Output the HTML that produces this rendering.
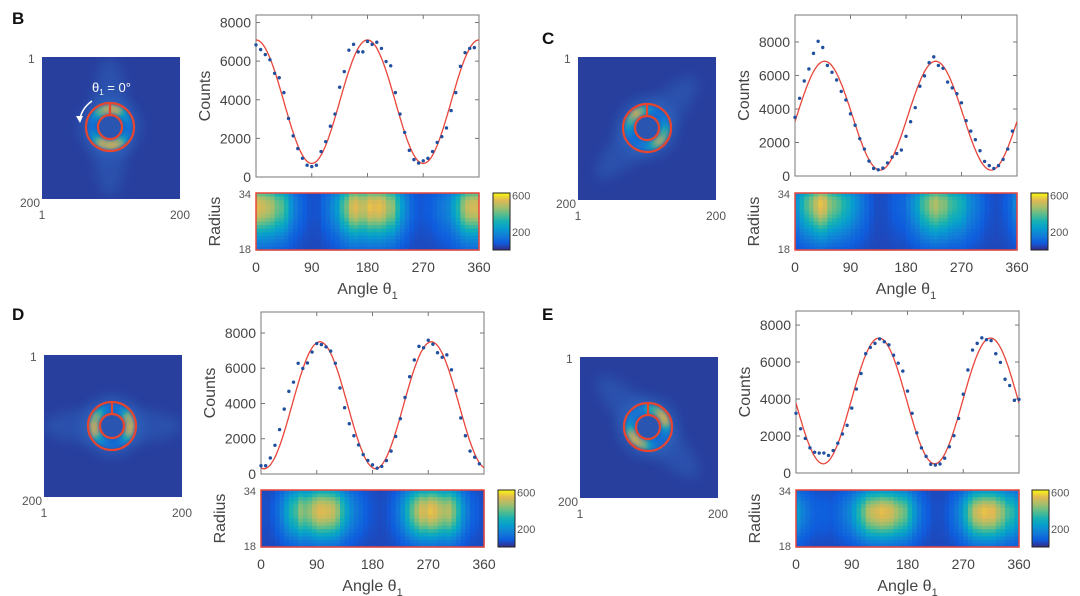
<!DOCTYPE html>
<html><head><meta charset="utf-8">
<style>
html,body{margin:0;padding:0;background:#fff;}
svg{display:block;font-family:"Liberation Sans",Arial,sans-serif;}
</style></head>
<body>
<svg id="fig" width="1080" height="596" viewBox="0 0 1080 596" xmlns="http://www.w3.org/2000/svg">
<defs>
<filter id="blur6" x="-50%" y="-50%" width="200%" height="200%"><feGaussianBlur stdDeviation="6"/></filter>
<filter id="blur2" x="-50%" y="-50%" width="200%" height="200%"><feGaussianBlur stdDeviation="1.5"/></filter>
<linearGradient id="parulaV" x1="0" y1="1" x2="0" y2="0">
<stop offset="0" stop-color="#352a87"/><stop offset="0.125" stop-color="#0f5cdd"/><stop offset="0.25" stop-color="#127dd8"/><stop offset="0.375" stop-color="#079ccf"/><stop offset="0.5" stop-color="#15b1b4"/><stop offset="0.625" stop-color="#59bd8c"/><stop offset="0.75" stop-color="#a5be6b"/><stop offset="0.875" stop-color="#e1b952"/><stop offset="1" stop-color="#f9fb0e"/>
</linearGradient>
</defs>
</svg>
<script>
// ---- data ----
const anglesB = [0,7.5,15,22.5,30,37.5,45,52.5,60,67.5,75,82.5,90,97.5,105,112.5,120,127.5,135,142.5,150,157.5,165,172.5,180,187.5,195,202.5,210,217.5,225,232.5,240,247.5,255,262.5,270,277.5,285,292.5,300,307.5,315,322.5,330,337.5,345,352.5];
const countsB = [6840,6600,6340,6070,5370,5140,4370,3030,2130,1470,970,610,540,610,1320,1830,2630,3260,4650,5460,6570,6870,6480,6480,7020,6870,6980,6660,5980,5760,4370,3260,2310,1380,900,720,840,970,1320,1790,2090,2540,3440,4370,5730,6440,6660,6700];
const anglesC = [0,7.5,15,22.5,30,37.5,45,52.5,60,67.5,75,82.5,90,97.5,105,112.5,120,127.5,135,142.5,150,157.5,165,172.5,180,187.5,195,202.5,210,217.5,225,232.5,240,247.5,255,262.5,270,277.5,285,292.5,300,307.5,315,322.5,330,337.5,345,352.5];
const countsC = [3500,4640,5670,6390,7320,8040,7670,6600,6190,5730,5050,4540,3710,3030,2230,1610,890,450,370,470,780,1130,1340,1550,2370,3240,4080,5360,5980,6760,7110,6600,6430,5610,5260,4910,4370,3300,2680,2170,1510,870,620,450,620,990,1610,2680];
const anglesD = [0,7.5,15,22.5,30,37.5,45,52.5,60,67.5,75,82.5,90,97.5,105,112.5,120,127.5,135,142.5,150,157.5,165,172.5,180,187.5,195,202.5,210,217.5,225,232.5,240,247.5,255,262.5,270,277.5,285,292.5,300,307.5,315,322.5,330,337.5,345,352.5];
const countsD = [470,470,910,1630,2520,3680,4690,5210,6280,5990,6300,6920,7400,7340,7210,6970,6280,4880,3760,2850,2170,1650,1100,770,520,330,430,760,1300,2130,3140,4340,5520,6470,7240,7160,7590,7360,6880,6620,6760,5910,4730,3180,2170,1300,950,580];
const anglesE = [0,7.5,15,22.5,30,37.5,45,52.5,60,67.5,75,82.5,90,97.5,105,112.5,120,127.5,135,142.5,150,157.5,165,172.5,180,187.5,195,202.5,210,217.5,225,232.5,240,247.5,255,262.5,270,277.5,285,292.5,300,307.5,315,322.5,330,337.5,345,352.5,360];
const countsE = [3230,2390,1870,1360,1120,1080,1080,950,1215,1610,2110,2580,3510,4540,5380,6450,6790,7010,7250,7100,6930,6370,5940,5510,4430,3230,2170,1360,900,470,430,490,800,1420,2020,2950,4260,5570,6650,7010,7310,7210,7160,6450,5980,5070,4730,3930,3980];
// cosine fit parameters: [mean, amplitude, peak angle]
const fitB = [3900, 3200, 180];
const fitC = [3600, 3250, 48];
const fitD = [3900, 3600, 95];
const fitE = [3900, 3400, 134];
// radial weighting of heatmap rows (radius 34 -> 18)
const radialB = [0.75,0.9,0.97,1,1,0.97,0.92,0.84,0.74,0.64,0.54,0.44,0.35,0.28,0.22,0.17];
const radialC = [0.8,0.95,1,1,0.98,0.93,0.86,0.78,0.7,0.6,0.5,0.42,0.34,0.27,0.2,0.15];
const radialD = [0.5,0.65,0.8,0.9,0.97,1,1,0.97,0.9,0.82,0.72,0.6,0.48,0.37,0.27,0.2];
const radialE = [0.4,0.55,0.7,0.83,0.93,1,1,0.98,0.92,0.84,0.74,0.62,0.5,0.38,0.28,0.2];
const yTicks = [0,2000,4000,6000,8000];
const xTicks = [0,90,180,270,360];
const cbarTicks = [200,600];

const NS = "http://www.w3.org/2000/svg";
const svg = document.getElementById('fig');
function mk(tag, attrs, parent){
  const e = document.createElementNS(NS, tag);
  for (const k in attrs) e.setAttribute(k, attrs[k]);
  (parent||svg).appendChild(e);
  return e;
}
const stops = [[53,42,135],[15,92,221],[18,125,216],[7,156,207],[21,177,180],[89,189,140],[165,190,107],[225,185,82],[249,251,14]];
function parula(t){
  t = Math.max(0, Math.min(1, t));
  const p = t*(stops.length-1), i = Math.min(stops.length-2, Math.floor(p)), f = p-i;
  const a = stops[i], b = stops[i+1];
  return 'rgb('+Math.round(a[0]+(b[0]-a[0])*f)+','+Math.round(a[1]+(b[1]-a[1])*f)+','+Math.round(a[2]+(b[2]-a[2])*f)+')';
}
const CMAX = 627;

const panels = [
 {id:'b', L:'B', letter:[12,24], angles:anglesB, counts:countsB, fit:fitB, radial:radialB, img:[42,57,138,142], ring:[110,127], band:90,
  plot:{l:256,r:479,t:15,b:177,ymax:8390}, heat:{t:193,b:250}, cbar:{l:493,r:510}, arrow:true},
 {id:'c', L:'C', letter:[542,44], angles:anglesC, counts:countsC, fit:fitC, radial:radialC, img:[578,57,138,143], ring:[647,128], band:45,
  plot:{l:795,r:1017,t:15,b:176,ymax:9610}, heat:{t:193,b:250}, cbar:{l:1031,r:1048}},
 {id:'d', L:'D', letter:[12,320], angles:anglesD, counts:countsD, fit:fitD, radial:radialD, img:[44,355,138,142], ring:[112,426], band:0,
  plot:{l:261,r:484,t:312,b:474,ymax:9190}, heat:{t:490,b:547}, cbar:{l:498,r:515}},
 {id:'e', L:'E', letter:[542,320], angles:anglesE, counts:countsE, fit:fitE, radial:radialE, img:[580,357,138,141], ring:[648,427], band:-45,
  plot:{l:796,r:1019,t:311,b:473,ymax:8760}, heat:{t:490,b:547}, cbar:{l:1032,r:1049}}
];

panels.forEach(P => {
  const g = mk('g', {});
  
  
  const pl = P.plot;
  const xs = a => pl.l + a/360*(pl.r-pl.l);
  const ys = v => pl.b - v/pl.ymax*(pl.b-pl.t);
  const maxC = Math.max(...P.counts);
  function countAt(a){
    let best = 0, bd = 1e9;
    P.angles.forEach((x,i)=>{ const d = Math.abs(x-a); if (d<bd){bd=d;best=i;} });
    return P.counts[best];
  }

  const lt = mk('text', {x:P.letter[0], y:P.letter[1], 'font-size':17, 'font-weight':'bold', fill:'#111'}, g);
  lt.textContent = P.L;
  
  

  // ---- diffraction image ----
  const [ix,iy,iw,ih] = P.img, [cx,cy] = P.ring;
  const ig = mk('g', {}, g);
  
  
  const cp = mk('clipPath', {id:'clip'+P.id}, ig);
  mk('rect', {x:ix, y:iy, width:iw, height:ih}, cp);
  const inner = mk('g', {'clip-path':'url(#clip'+P.id+')'}, ig);
  mk('rect', {x:ix, y:iy, width:iw, height:ih, fill:'#283f9e'}, inner);
  mk('ellipse', {cx:cx, cy:cy, rx:70, ry:18, fill:'#2d68c0', opacity:0.45, filter:'url(#blur6)', transform:'rotate('+(-P.band)+' '+cx+' '+cy+')'}, inner);
  mk('circle', {cx:cx, cy:cy, r:30, fill:'#2f78cc', opacity:0.45, filter:'url(#blur6)'}, inner);
  mk('circle', {cx:cx, cy:cy, r:12, fill:'#2a55b0'}, inner);
  const r1 = 12, r2 = 24;
  P.angles.forEach((a,i) => {
    const a0 = (a-4.2)*Math.PI/180, a1 = (a+4.2)*Math.PI/180;
    const pt = (r,t)=> [cx - r*Math.sin(t), cy - r*Math.cos(t)];
    const p1=pt(r1+2,a0), p2=pt(r2-2,a0), p3=pt(r2-2,a1), p4=pt(r1+2,a1);
    const w = mk('path', {d:'M'+p1+' L'+p2+' L'+p3+' L'+p4+' Z', fill:parula(0.18 + 0.72*Math.pow(P.counts[i]/maxC,1.3)), filter:'url(#blur2)'}, inner);
    
    
  });
  mk('circle', {cx:cx, cy:cy, r:r2, fill:'none', stroke:'#e8452f', 'stroke-width':2.2}, ig);
  mk('circle', {cx:cx, cy:cy, r:r1, fill:'none', stroke:'#e8452f', 'stroke-width':2.2}, ig);
  mk('line', {x1:cx, y1:cy-r2, x2:cx, y2:cy-r1, stroke:'#e8452f', 'stroke-width':2.2}, ig);
  const il = [['1', ix-14, iy+6, 'start'], ['200', ix-2, ih+iy+8, 'end'], ['1', ix, iy+ih+20, 'middle'], ['200', ix+iw, iy+ih+20, 'middle']];
  il.forEach(t=>{ const e = mk('text', {x:t[1], y:t[2], 'font-size':12, fill:'#555', 'text-anchor':t[3]}, ig); e.textContent = t[0]; });
  if (P.arrow){
    const at = mk('text', {x:92, y:92, 'font-size':13, fill:'#fff'}, ig);
    at.innerHTML = 'θ<tspan font-size="8" dy="3">1</tspan><tspan dy="-3"> = 0°</tspan>';
    
    
    mk('path', {d:'M92 101 Q82 108 80 119', fill:'none', stroke:'#fff', 'stroke-width':1.6}, ig);
    mk('path', {d:'M76 116 L80 123 L83 116 Z', fill:'#fff'}, ig);
  }

  // ---- counts plot ----
  const pg = mk('g', {}, g);
  
  
  mk('rect', {x:pl.l, y:pl.t, width:pl.r-pl.l, height:pl.b-pl.t, fill:'#fff', stroke:'#777', 'stroke-width':1}, pg);
  yTicks.forEach(v => {
    const y = ys(v);
    mk('line', {x1:pl.l, x2:pl.l+4, y1:y, y2:y, stroke:'#777'}, pg);
    mk('line', {x1:pl.r, x2:pl.r-4, y1:y, y2:y, stroke:'#777'}, pg);
    const t = mk('text', {x:pl.l-5, y:y+5, 'font-size':14, fill:'#444', 'text-anchor':'end'}, pg);
    t.textContent = v;
    
    
  });
  xTicks.forEach(v => {
    const x = xs(v);
    mk('line', {x1:x, x2:x, y1:pl.b, y2:pl.b-4, stroke:'#777'}, pg);
    mk('line', {x1:x, x2:x, y1:pl.t, y2:pl.t+4, stroke:'#777'}, pg);
  });
  const yl = mk('text', {x:0, y:0, 'font-size':16, fill:'#444', 'text-anchor':'middle', transform:'translate('+(pl.l-46)+','+((pl.t+pl.b)/2)+') rotate(-90)'}, pg);
  yl.textContent = 'Counts';
  
  
  const cp2 = mk('clipPath', {id:'pc'+P.id}, pg);
  mk('rect', {x:pl.l, y:pl.t, width:pl.r-pl.l, height:pl.b-pl.t}, cp2);
  let d = '';
  for (let a = 0; a <= 360; a += 2){
    const v = P.fit[0] + P.fit[1]*Math.cos((a-P.fit[2])*2*Math.PI/180);
    d += (a===0?'M':'L') + xs(a).toFixed(1) + ' ' + ys(v).toFixed(1);
  }
  const fl = mk('path', {d:d, fill:'none', stroke:'#e8453a', 'stroke-width':1.3, 'clip-path':'url(#pc'+P.id+')'}, pg);
  
  
  P.angles.forEach((a,i) => {
    const c = mk('circle', {cx:xs(a), cy:ys(P.counts[i]), r:1.7, fill:'#1f4f9e'}, pg);
    
    
  });

  // ---- heatmap ----
  const hg = mk('g', {}, g);
  
  
  const H = P.heat, nR = P.radial.length, nA = 48;
  const cw = (pl.r-pl.l)/nA, ch = (H.b-H.t)/nR;
  for (let j=0;j<nA;j++){
    const a = (j+0.5)*360/nA;
    const cv = countAt(a)/maxC;
    for (let r=0;r<nR;r++){
      const val = 45 + 515*Math.pow(cv,1.3)*P.radial[r];
      const cell = mk('rect', {x:(pl.l+j*cw).toFixed(2), y:(H.t+r*ch).toFixed(2), width:(cw+0.6).toFixed(2), height:(ch+0.6).toFixed(2), fill:parula(val/CMAX)}, hg);
      
      
    }
  }
  mk('rect', {x:pl.l, y:H.t, width:pl.r-pl.l, height:H.b-H.t, fill:'none', stroke:'#e8453a', 'stroke-width':1.5}, hg);
  const rl = mk('text', {x:0, y:0, 'font-size':16, fill:'#444', 'text-anchor':'middle', transform:'translate('+(pl.l-36)+','+((H.t+H.b)/2)+') rotate(-90)'}, hg);
  rl.textContent = 'Radius';
  
  
  [['34', H.t+5], ['18', H.b+3]].forEach(t=>{ const e = mk('text', {x:pl.l-5, y:t[1], 'font-size':11, fill:'#555', 'text-anchor':'end'}, hg); e.textContent = t[0]; });
  xTicks.forEach(v => {
    const t = mk('text', {x:xs(v), y:H.b+22, 'font-size':14, fill:'#444', 'text-anchor':'middle'}, hg);
    t.textContent = v;
    
    
  });
  const xl = mk('text', {x:(pl.l+pl.r)/2, y:H.b+44, 'font-size':16, fill:'#444', 'text-anchor':'middle'}, hg);
  xl.innerHTML = 'Angle  θ<tspan font-size="11" dy="5">1</tspan>';
  
  

  // ---- colorbar ----
  const cg = mk('g', {}, g);
  
  
  mk('rect', {x:P.cbar.l, y:H.t, width:P.cbar.r-P.cbar.l, height:H.b-H.t, fill:'url(#parulaV)', stroke:'#222', 'stroke-width':1}, cg);
  cbarTicks.forEach(v => {
    const y = H.b - v/CMAX*(H.b-H.t);
    const t = mk('text', {x:P.cbar.r+2, y:y+4, 'font-size':11, fill:'#555'}, cg);
    t.textContent = v;
    
    
  });
});
</script>
</body></html>
